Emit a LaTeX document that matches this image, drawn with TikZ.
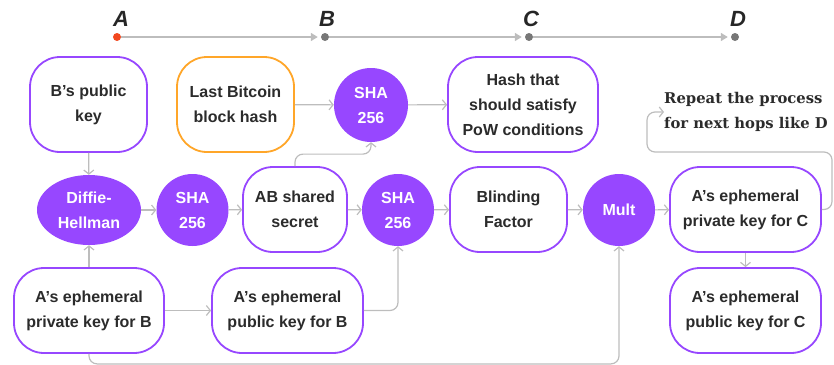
\documentclass[tikz,border=0pt]{standalone}
\usepackage{fontspec}
\setmainfont{Liberation Sans}
\newfontfamily\serifb{DejaVu Serif}
\usetikzlibrary{arrows.meta,shapes.geometric}
\definecolor{purp}{HTML}{9747FF}
\definecolor{orng}{HTML}{FFA629}
\definecolor{conn}{HTML}{BDBDBD}
\definecolor{txt}{HTML}{2B2B2B}
\definecolor{dotg}{HTML}{777777}
\definecolor{dotr}{HTML}{F2481F}
\begin{document}
\begin{tikzpicture}[x=1pt,y=-1pt,
  box/.style={draw=purp, line width=1.8pt, fill=white, rounded corners=30pt, align=center,
    font=\bfseries\fontsize{16}{25}\selectfont, text=txt, inner sep=0pt},
  obox/.style={box, draw=orng},
  disc/.style={circle, fill=purp, text=white, align=center, inner sep=0pt,
    font=\bfseries\fontsize{16}{25}\selectfont},
  oval/.style={ellipse, fill=purp, text=white, align=center, inner sep=0pt,
    font=\bfseries\fontsize{16}{25}\selectfont},
  con/.style={draw=conn, line width=1.2pt, -{Straight Barb[length=4pt,width=10pt]}, rounded corners=8pt},
  tl/.style={draw=conn, line width=1.6pt, -{Triangle[length=7pt,width=8pt]}, shorten >=3pt},
  tdot/.style={circle, fill=dotg, minimum size=8pt, inner sep=0pt},
  tlab/.style={font=\bfseries\itshape\fontsize{22}{22}\selectfont, text=black!85}
]
\useasboundingbox (0,0) rectangle (834,364);
% timeline
\node[tdot, fill=dotr] (tA) at (117,37) {};
\node[tdot] (tB) at (325,37) {};
\node[tdot] (tC) at (529,37) {};
\node[tdot] (tD) at (735,37) {};
\node[tlab] (lA) at (121,19) {A};
\node[tlab] (lB) at (327,19) {B};
\node[tlab] (lC) at (531,19) {C};
\node[tlab] (lD) at (738,19) {D};
\draw[tl] (tA) -- (tB);
\draw[tl] (tB) -- (tC);
\draw[tl] (tC) -- (tD);
% top row
\node[box, minimum width=117pt, minimum height=95pt] (bpk) at (88.5,104.5) {B’s public\\key};
\node[obox, minimum width=117pt, minimum height=95pt] (lbh) at (235.5,104.5) {Last Bitcoin\\block hash};
\node[disc, minimum size=74pt] (sha0) at (371,105) {SHA\\256};
\node[box, minimum width=150pt, minimum height=95pt] (hash) at (523,104.5) {Hash that\\should satisfy\\PoW conditions};
\node[font=\serifb\bfseries\fontsize{14.8}{25}\selectfont, text=txt, align=left, inner sep=0pt, anchor=west] (rep) at (664,112) {Repeat the process\\for next hops like D};
% middle row
\node[oval, minimum width=104pt, minimum height=70pt] (dh) at (89,210) {Diffie-\\Hellman};
\node[disc, minimum size=72pt] (sha1) at (192.5,210) {SHA\\256};
\node[box, minimum width=104pt, minimum height=85pt] (ab) at (295,209.5) {AB shared\\secret};
\node[disc, minimum size=72pt] (sha2) at (398,210) {SHA\\256};
\node[box, minimum width=117pt, minimum height=85pt] (blind) at (508.5,209.5) {Blinding\\Factor};
\node[disc, minimum size=72pt] (mult) at (619,210) {Mult};
\node[box, minimum width=151pt, minimum height=85pt] (apC) at (745.5,209.5) {A’s ephemeral\\private key for C};
% bottom row
\node[box, minimum width=150pt, minimum height=85pt] (apB) at (89,310.5) {A’s ephemeral\\private key for B};
\node[box, minimum width=151pt, minimum height=85pt] (apubB) at (287.5,310.5) {A’s ephemeral\\public key for B};
\node[box, minimum width=151pt, minimum height=85pt] (apubC) at (745.5,310.5) {A’s ephemeral\\public key for C};
% connectors
\draw[con] (bpk) -- (dh);
\draw[con] (apB) -- (dh);
\draw[con] (dh) -- (sha1);
\draw[con] (sha1) -- (ab);
\draw[con] (ab) -- (sha2);
\draw[con] (sha2) -- (blind);
\draw[con] (blind) -- (mult);
\draw[con] (mult) -- (apC);
\draw[con] (apC) -- (apubC);
\draw[con] (apB) -- (apubB);
\draw[con] (lbh) -- (sha0);
\draw[con] (sha0) -- (hash);
\draw[con] (ab.north) -- ++(0,-12) -| (sha0.south);
\draw[con] (apubB.east) -| (sha2.south);
\draw[con] (apB.south) -- ++(0,10) -| (mult.south);
\coordinate (lr) at (832,152);
\coordinate (ll) at (647,152);
\draw[con] (apC.east) -| (lr) -- (ll) |- (rep.west);
\end{tikzpicture}
\end{document}
